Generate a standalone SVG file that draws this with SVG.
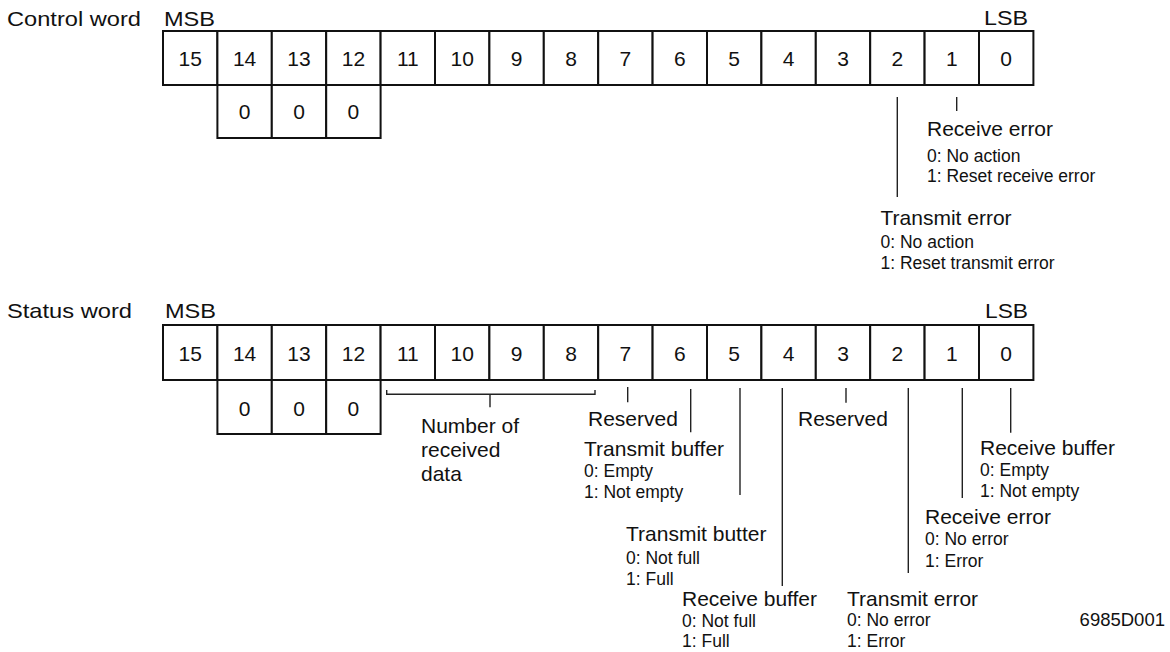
<svg xmlns="http://www.w3.org/2000/svg" width="1170" height="652" viewBox="0 0 1170 652">
<style>
text{font-family:"Liberation Sans",Arial,Helvetica,sans-serif;fill:#111}
.t{font-size:21px}
.s{font-size:17.5px}
.c{text-anchor:middle;font-size:21px}
.cell{fill:#fff;stroke:#111;stroke-width:2}
.ln{stroke:#222;stroke-width:1.4;fill:none}
</style>
<rect width="1170" height="652" fill="#fff"/>

<g id="control-word">
<text class="t" x="7" y="26" textLength="134" lengthAdjust="spacingAndGlyphs">Control word</text>
<text class="t" x="164" y="26" textLength="51" lengthAdjust="spacingAndGlyphs">MSB</text>
<text class="t" x="984" y="25" textLength="44" lengthAdjust="spacingAndGlyphs">LSB</text>
</g>

<g id="control-register">
<rect class="cell" x="163" y="31" width="54.4" height="54"/>
<rect class="cell" x="217.4" y="31" width="54.4" height="54"/>
<rect class="cell" x="271.8" y="31" width="54.4" height="54"/>
<rect class="cell" x="326.2" y="31" width="54.4" height="54"/>
<rect class="cell" x="380.6" y="31" width="54.4" height="54"/>
<rect class="cell" x="435" y="31" width="54.4" height="54"/>
<rect class="cell" x="489.4" y="31" width="54.4" height="54"/>
<rect class="cell" x="543.8" y="31" width="54.4" height="54"/>
<rect class="cell" x="598.2" y="31" width="54.4" height="54"/>
<rect class="cell" x="652.6" y="31" width="54.4" height="54"/>
<rect class="cell" x="707" y="31" width="54.4" height="54"/>
<rect class="cell" x="761.4" y="31" width="54.4" height="54"/>
<rect class="cell" x="815.8" y="31" width="54.4" height="54"/>
<rect class="cell" x="870.2" y="31" width="54.4" height="54"/>
<rect class="cell" x="924.6" y="31" width="54.4" height="54"/>
<rect class="cell" x="979" y="31" width="54.4" height="54"/>
<rect class="cell" x="217.4" y="85" width="54.4" height="53"/>
<rect class="cell" x="271.8" y="85" width="54.4" height="53"/>
<rect class="cell" x="326.2" y="85" width="54.4" height="53"/>
<text class="c" x="190.2" y="66">15</text>
<text class="c" x="244.6" y="66">14</text>
<text class="c" x="299" y="66">13</text>
<text class="c" x="353.4" y="66">12</text>
<text class="c" x="407.8" y="66">11</text>
<text class="c" x="462.2" y="66">10</text>
<text class="c" x="516.6" y="66">9</text>
<text class="c" x="571" y="66">8</text>
<text class="c" x="625.4" y="66">7</text>
<text class="c" x="679.8" y="66">6</text>
<text class="c" x="734.2" y="66">5</text>
<text class="c" x="788.6" y="66">4</text>
<text class="c" x="843" y="66">3</text>
<text class="c" x="897.4" y="66">2</text>
<text class="c" x="951.8" y="66">1</text>
<text class="c" x="1006.2" y="66">0</text>
<text class="c" x="244.6" y="119">0</text>
<text class="c" x="299" y="119">0</text>
<text class="c" x="353.4" y="119">0</text>
</g>

<g id="ctrl-receive-error">
<text class="t" x="927" y="136">Receive error</text>
<text class="s" x="927" y="161.5">0: No action</text>
<text class="s" x="927" y="182">1: Reset receive error</text>
</g>
<g id="ctrl-transmit-error">
<text class="t" x="880.5" y="224.5">Transmit error</text>
<text class="s" x="880.5" y="248">0: No action</text>
<text class="s" x="880.5" y="269">1: Reset transmit error</text>
</g>

<g id="status-word">
<text class="t" x="7" y="318" textLength="125" lengthAdjust="spacingAndGlyphs">Status word</text>
<text class="t" x="165" y="318" textLength="51" lengthAdjust="spacingAndGlyphs">MSB</text>
<text class="t" x="985" y="318" textLength="43" lengthAdjust="spacingAndGlyphs">LSB</text>
</g>

<g id="status-register">
<rect class="cell" x="163" y="325" width="54.4" height="55"/>
<rect class="cell" x="217.4" y="325" width="54.4" height="55"/>
<rect class="cell" x="271.8" y="325" width="54.4" height="55"/>
<rect class="cell" x="326.2" y="325" width="54.4" height="55"/>
<rect class="cell" x="380.6" y="325" width="54.4" height="55"/>
<rect class="cell" x="435" y="325" width="54.4" height="55"/>
<rect class="cell" x="489.4" y="325" width="54.4" height="55"/>
<rect class="cell" x="543.8" y="325" width="54.4" height="55"/>
<rect class="cell" x="598.2" y="325" width="54.4" height="55"/>
<rect class="cell" x="652.6" y="325" width="54.4" height="55"/>
<rect class="cell" x="707" y="325" width="54.4" height="55"/>
<rect class="cell" x="761.4" y="325" width="54.4" height="55"/>
<rect class="cell" x="815.8" y="325" width="54.4" height="55"/>
<rect class="cell" x="870.2" y="325" width="54.4" height="55"/>
<rect class="cell" x="924.6" y="325" width="54.4" height="55"/>
<rect class="cell" x="979" y="325" width="54.4" height="55"/>
<rect class="cell" x="217.4" y="380" width="54.4" height="54"/>
<rect class="cell" x="271.8" y="380" width="54.4" height="54"/>
<rect class="cell" x="326.2" y="380" width="54.4" height="54"/>
<text class="c" x="190.2" y="361">15</text>
<text class="c" x="244.6" y="361">14</text>
<text class="c" x="299" y="361">13</text>
<text class="c" x="353.4" y="361">12</text>
<text class="c" x="407.8" y="361">11</text>
<text class="c" x="462.2" y="361">10</text>
<text class="c" x="516.6" y="361">9</text>
<text class="c" x="571" y="361">8</text>
<text class="c" x="625.4" y="361">7</text>
<text class="c" x="679.8" y="361">6</text>
<text class="c" x="734.2" y="361">5</text>
<text class="c" x="788.6" y="361">4</text>
<text class="c" x="843" y="361">3</text>
<text class="c" x="897.4" y="361">2</text>
<text class="c" x="951.8" y="361">1</text>
<text class="c" x="1006.2" y="361">0</text>
<text class="c" x="244.6" y="416">0</text>
<text class="c" x="299" y="416">0</text>
<text class="c" x="353.4" y="416">0</text>
</g>

<g id="st-received-data">
<text class="t" x="421" y="433">Number of</text>
<text class="t" x="421" y="457">received</text>
<text class="t" x="421" y="481">data</text>
</g>
<g id="st-reserved-7">
<text class="t" x="588" y="426">Reserved</text>
</g>
<g id="st-transmit-buffer">
<text class="t" x="584" y="456">Transmit buffer</text>
<text class="s" x="584" y="477">0: Empty</text>
<text class="s" x="584" y="498">1: Not empty</text>
</g>
<g id="st-transmit-butter">
<text class="t" x="626" y="541">Transmit butter</text>
<text class="s" x="626" y="564">0: Not full</text>
<text class="s" x="626" y="585">1: Full</text>
</g>
<g id="st-receive-buffer-full">
<text class="t" x="682" y="605.5">Receive buffer</text>
<text class="s" x="682" y="626.5">0: Not full</text>
<text class="s" x="682" y="647">1: Full</text>
</g>
<g id="st-reserved-3">
<text class="t" x="798" y="426">Reserved</text>
</g>
<g id="st-transmit-error">
<text class="t" x="847" y="605.5">Transmit error</text>
<text class="s" x="847" y="626">0: No error</text>
<text class="s" x="847" y="647">1: Error</text>
</g>
<g id="st-receive-error">
<text class="t" x="925" y="523.5">Receive error</text>
<text class="s" x="925" y="545">0: No error</text>
<text class="s" x="925" y="567">1: Error</text>
</g>
<g id="st-receive-buffer">
<text class="t" x="980" y="455">Receive buffer</text>
<text class="s" x="980" y="476">0: Empty</text>
<text class="s" x="980" y="497">1: Not empty</text>
</g>

<g id="figure-id">
<text x="1165" y="626" text-anchor="end" style="font-size:18.5px">6985D001</text>
</g>

<g id="connectors">
<line class="ln" x1="956.7" y1="97" x2="956.7" y2="111"/>
<line class="ln" x1="897.3" y1="97" x2="897.3" y2="197"/>
<path class="ln" d="M386.7 390 V394.3 H595 V390 M490 394.3 V407.3"/>
<line class="ln" x1="627.7" y1="387" x2="627.7" y2="402.3"/>
<line class="ln" x1="690.7" y1="389" x2="690.7" y2="432.3"/>
<line class="ln" x1="740" y1="388" x2="740" y2="495"/>
<line class="ln" x1="782.3" y1="388" x2="782.3" y2="586"/>
<line class="ln" x1="846" y1="388" x2="846" y2="402.7"/>
<line class="ln" x1="908.3" y1="388" x2="908.3" y2="573"/>
<line class="ln" x1="962.3" y1="388" x2="962.3" y2="498"/>
<line class="ln" x1="1010.7" y1="388" x2="1010.7" y2="432.7"/>
</g>
</svg>
